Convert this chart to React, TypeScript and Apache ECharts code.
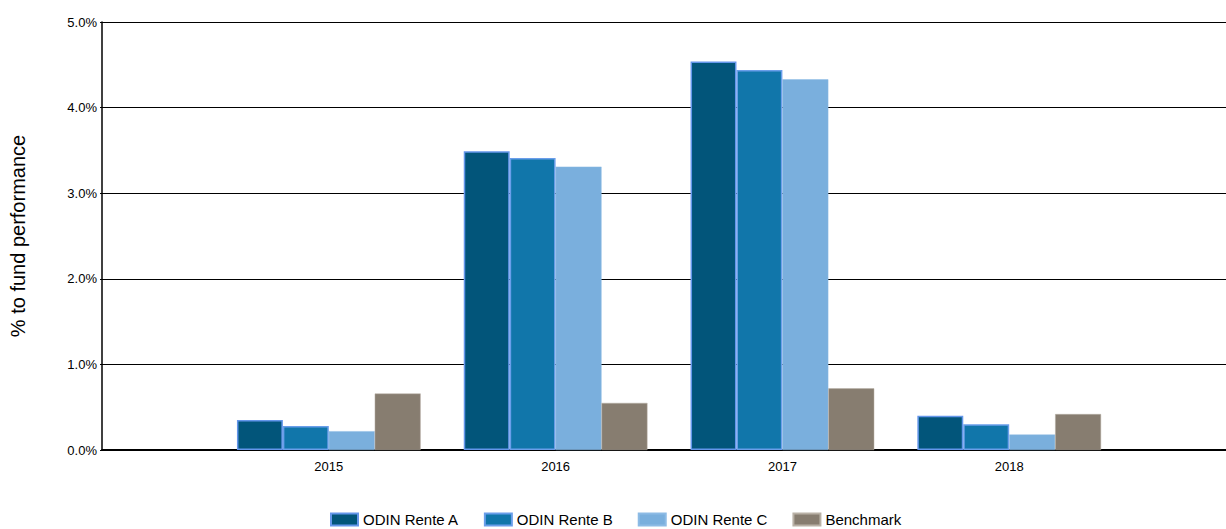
import React, { useEffect, useRef } from "react";
import * as echarts from "echarts";

const categories = ["", "2015", "2016", "2017", "2018", ""];
const seriesNames = ["ODIN Rente A", "ODIN Rente B", "ODIN Rente C", "Benchmark"];
const renteA = [null, 0.35, 3.49, 4.54, 0.4, null];
const renteB = [null, 0.28, 3.41, 4.44, 0.3, null];
const renteC = [null, 0.22, 3.31, 4.33, 0.18, null];
const benchmark = [null, 0.66, 0.55, 0.72, 0.42, null];
const yTicks = [0, 1, 2, 3, 4, 5];

const colors = ["#02557a", "#1176aa", "#7aafdd", "#877d70"];
const borders = ["#6496ea", "#6a9eea", "#8dbbe5", "#b9b1a6"];
const borderWidths = [1.5, 1.5, 0.5, 0.5];

export default function App() {
  const ref = useRef<HTMLDivElement>(null);
  useEffect(() => {
    if (!ref.current) return;
    const chart = echarts.init(ref.current, null, { renderer: "svg" });
    const data = [renteA, renteB, renteC, benchmark];
    chart.setOption({
      animation: false,
      textStyle: { fontFamily: "Liberation Sans, Arial, sans-serif" },
      grid: { left: 101, top: 22, bottom: 79, right: 4 },
      legend: {
        top: 512,
        left: 330,
        padding: 0,
        icon: "rect",
        itemWidth: 27,
        itemHeight: 12,
        itemGap: 25,
        textStyle: { fontSize: 15, color: "#000" },
        data: seriesNames,
      },
      xAxis: {
        type: "category",
        data: categories,
        boundaryGap: false,
        axisLine: { lineStyle: { color: "#000", width: 2 } },
        axisTick: { show: false },
        axisLabel: { color: "#000", fontSize: 13, margin: 10 },
        splitLine: { show: false },
      },
      yAxis: {
        type: "value",
        min: yTicks[0],
        max: yTicks[yTicks.length - 1],
        interval: 1,
        name: "% to fund performance",
        nameLocation: "middle",
        nameGap: 74,
        nameRotate: 90,
        nameTextStyle: { fontSize: 20, color: "#000" },
        axisLine: { show: true, lineStyle: { color: "#000", width: 1.5 } },
        axisTick: { show: true, length: 2, lineStyle: { color: "#000" } },
        axisLabel: {
          color: "#000",
          fontSize: 13,
          margin: 5,
          formatter: (v: number) => v.toFixed(1) + "%",
        },
        splitLine: { lineStyle: { color: "#000", width: 1 } },
      },
      series: seriesNames.map((name, i) => ({
        name,
        type: "bar",
        data: data[i],
        barGap: "0%",
        barCategoryGap: "19%",
        itemStyle: {
          color: colors[i],
          borderColor: borders[i],
          borderWidth: borderWidths[i],
        },
      })),
    });
    return () => chart.dispose();
  }, []);
  return (
    <div
      ref={ref}
      style={{ position: "fixed", left: 0, top: 0, width: 1240, height: 529, background: "#fff" }}
    />
  );
}
